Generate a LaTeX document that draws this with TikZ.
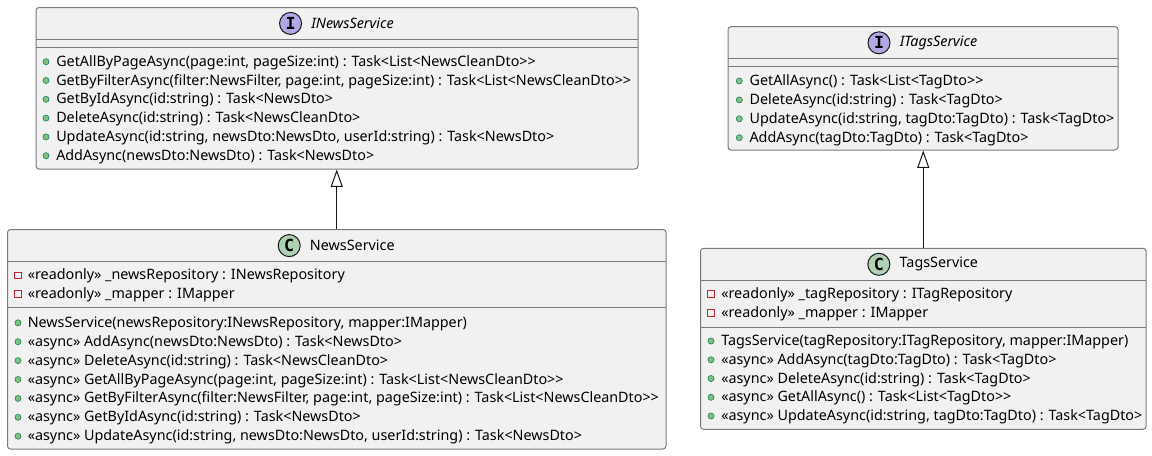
\documentclass[tikz,border=0pt]{standalone}
\usepackage{fontspec}
\setmainfont{Noto Sans}[Ligatures=TeXOff]
\newfontfamily\spotfont{DejaVu Sans Mono}
\usetikzlibrary{arrows.meta,positioning,fit}

\definecolor{boxfill}{HTML}{F1F1F1}
\definecolor{boxline}{HTML}{7A7A7A}
\definecolor{arrowline}{HTML}{181818}
\definecolor{ifill}{HTML}{B4A7E5}
\definecolor{cfill}{HTML}{ADD1B2}
\definecolor{pubfill}{HTML}{84BE84}
\definecolor{publine}{HTML}{038048}
\definecolor{privline}{HTML}{C82930}

\tikzset{
  classbox/.style={draw=boxline, fill=boxfill, line width=0.75pt, rounded corners=2.25pt, inner sep=0pt},
  divider/.style={draw=boxline, line width=0.75pt},
  member/.style={anchor=base west, inner sep=0pt, font=\fontsize{10.75}{12}\selectfont},
  head/.style={inner sep=0pt, font=\fontsize{10.75}{12}\selectfont},
  pub/.style={circle, draw=publine, fill=pubfill, minimum size=4.6pt, inner sep=0pt, line width=0.4pt},
  priv/.style={rectangle, draw=privline, minimum size=5pt, inner sep=0pt, line width=0.6pt},
  spot/.style={circle, draw=arrowline, minimum size=16.5pt, inner sep=0pt, line width=0.75pt,
    font=\spotfont\bfseries\fontsize{12.5}{12}\selectfont},
  extends/.style={draw=arrowline, line width=0.75pt, -{Triangle[length=13pt,width=9pt,fill=white]}},
}

\begin{document}
\begin{tikzpicture}[x=0.75pt,y=-0.75pt]
  \useasboundingbox (0,0) rectangle (1152,455);

  % INewsService
  \node[classbox, fit={(36,7.5) (638,169)}] (inews) {};
  \draw[divider] (36,39.3) -- (638,39.3) (36,47.3) -- (638,47.3);
  \node[head, font=\fontsize{10.75}{12}\selectfont\itshape] (inews-name) at (352.5,23.4) {INewsService};
  \node[spot, fill=ifill, left=6.75pt of inews-name] (inews-spot) {I};
  \foreach \t [count=\i] in {
      {GetAllByPageAsync(page:int, pageSize:int) : Task<List<NewsCleanDto>>},
      {GetByFilterAsync(filter:NewsFilter, page:int, pageSize:int) : Task<List<NewsCleanDto>>},
      {GetByIdAsync(id:string) : Task<NewsDto>},
      {DeleteAsync(id:string) : Task<NewsCleanDto>},
      {UpdateAsync(id:string, newsDto:NewsDto, userId:string) : Task<NewsDto>},
      {AddAsync(newsDto:NewsDto) : Task<NewsDto>}} {
    \pgfmathsetmacro\y{61.7+18.8*(\i-1)}
    \node[pub] (inews-dot-\i) at (46,\y) {};
    \node[member] (inews-op-\i) at (56,\y+4.5) {\t};
  }

  % NewsService
  \node[classbox, fit={(7.5,229.5) (666,449)}] (news) {};
  \draw[divider] (7.5,261.7) -- (666,261.7) (7.5,307.3) -- (666,307.3);
  \node[head] (news-name) at (352.3,245.6) {NewsService};
  \node[spot, fill=cfill, left=6.75pt of news-name] (news-spot) {C};
  \foreach \t [count=\i] in {
      {«readonly» \_newsRepository : INewsRepository},
      {«readonly» \_mapper : IMapper}} {
    \pgfmathsetmacro\y{275.3+18.8*(\i-1)}
    \node[priv] (news-sq-\i) at (18,\y) {};
    \node[member] (news-attr-\i) at (27.5,\y+4.5) {\t};
  }
  \foreach \t [count=\i] in {
      {NewsService(newsRepository:INewsRepository, mapper:IMapper)},
      {«async» AddAsync(newsDto:NewsDto) : Task<NewsDto>},
      {«async» DeleteAsync(id:string) : Task<NewsCleanDto>},
      {«async» GetAllByPageAsync(page:int, pageSize:int) : Task<List<NewsCleanDto>>},
      {«async» GetByFilterAsync(filter:NewsFilter, page:int, pageSize:int) : Task<List<NewsCleanDto>>},
      {«async» GetByIdAsync(id:string) : Task<NewsDto>},
      {«async» UpdateAsync(id:string, newsDto:NewsDto, userId:string) : Task<NewsDto>}} {
    \pgfmathsetmacro\y{322.8+18.9*(\i-1)}
    \node[pub] (news-dot-\i) at (18,\y) {};
    \node[member] (news-op-\i) at (27.5,\y+4.5) {\t};
  }

  % ITagsService
  \node[classbox, fit={(728,26.7) (1118,150)}] (itags) {};
  \draw[divider] (728,58.3) -- (1118,58.3) (728,66.7) -- (1118,66.7);
  \node[head, font=\fontsize{10.75}{12}\selectfont\itshape] (itags-name) at (938.5,42.8) {ITagsService};
  \node[spot, fill=ifill, left=6.75pt of itags-name] (itags-spot) {I};
  \foreach \t [count=\i] in {
      {GetAllAsync() : Task<List<TagDto>>},
      {DeleteAsync(id:string) : Task<TagDto>},
      {UpdateAsync(id:string, tagDto:TagDto) : Task<TagDto>},
      {AddAsync(tagDto:TagDto) : Task<TagDto>}} {
    \pgfmathsetmacro\y{81+18.9*(\i-1)}
    \node[pub] (itags-dot-\i) at (739.3,\y) {};
    \node[member] (itags-op-\i) at (749.3,\y+4.5) {\t};
  }

  % TagsService
  \node[classbox, fit={(700.5,248.3) (1146,429.3)}] (tags) {};
  \draw[divider] (700.5,280.3) -- (1146,280.3) (700.5,327.3) -- (1146,327.3);
  \node[head] (tags-name) at (938.8,264.3) {TagsService};
  \node[spot, fill=cfill, left=6.75pt of tags-name] (tags-spot) {C};
  \foreach \t [count=\i] in {
      {«readonly» \_tagRepository : ITagRepository},
      {«readonly» \_mapper : IMapper}} {
    \pgfmathsetmacro\y{294+18.9*(\i-1)}
    \node[priv] (tags-sq-\i) at (711,\y) {};
    \node[member] (tags-attr-\i) at (721,\y+4.5) {\t};
  }
  \foreach \t [count=\i] in {
      {TagsService(tagRepository:ITagRepository, mapper:IMapper)},
      {«async» AddAsync(tagDto:TagDto) : Task<TagDto>},
      {«async» DeleteAsync(id:string) : Task<TagDto>},
      {«async» GetAllAsync() : Task<List<TagDto>>},
      {«async» UpdateAsync(id:string, tagDto:TagDto) : Task<TagDto>}} {
    \pgfmathsetmacro\y{341+18.75*(\i-1)}
    \node[pub] (tags-dot-\i) at (711,\y) {};
    \node[member] (tags-op-\i) at (721,\y+4.5) {\t};
  }

  % realizations
  \draw[extends] (news.north) -- (news.north |- inews.south);
  \draw[extends] (tags.north) -- (tags.north |- itags.south);
\end{tikzpicture}
\end{document}
